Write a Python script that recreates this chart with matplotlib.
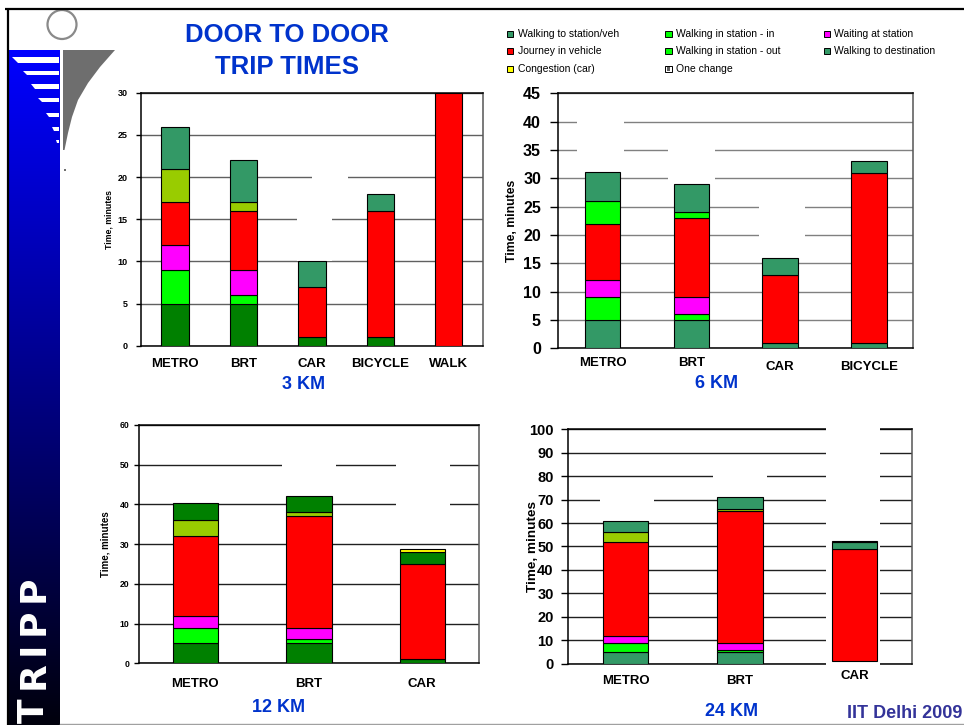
import numpy as np
import matplotlib
matplotlib.use("Agg")
import matplotlib.pyplot as plt
from matplotlib.patches import Rectangle, Polygon, Circle
from matplotlib.transforms import ScaledTranslation

plt.rcParams['font.family'] = ['Liberation Sans', 'DejaVu Sans']

# ------------------------------------------------------------------ data
cats_3km = ["METRO", "BRT", "CAR", "BICYCLE", "WALK"]
walk_to_3km = [5, 5, 1, 1, 0]
walk_in_3km = [4, 1, 0, 0, 0]
wait_3km = [3, 3, 0, 0, 0]
journey_3km = [5, 7, 6, 15, 30]
walk_out_3km = [4, 1, 0, 0, 0]
walk_dest_3km = [5, 5, 3, 2, 0]
congestion_3km = [0, 0, 0, 0, 0]

cats_6km = ["METRO", "BRT", "CAR", "BICYCLE"]
walk_to_6km = [5, 5, 1, 1]
walk_in_6km = [4, 1, 0, 0]
wait_6km = [3, 3, 0, 0]
journey_6km = [10, 14, 12, 30]
walk_out_6km = [4, 1, 0, 0]
walk_dest_6km = [5.2, 5, 3, 2]
congestion_6km = [0, 0, 0, 0]

cats_12km = ["METRO", "BRT", "CAR"]
walk_to_12km = [5, 5, 1]
walk_in_12km = [4, 1, 0]
wait_12km = [3, 3, 0]
journey_12km = [20, 28, 24]
walk_out_12km = [4, 1, 0]
walk_dest_12km = [4.3, 4.2, 3]
congestion_12km = [0, 0, 0.8]

cats_24km = ["METRO", "BRT", "CAR"]
walk_to_24km = [5, 5, 1]
walk_in_24km = [4, 1, 0]
wait_24km = [3, 3, 0]
journey_24km = [40, 56, 48]
walk_out_24km = [4, 1, 0]
walk_dest_24km = [5, 5, 3]
congestion_24km = [0, 0, 0.25]

legend_labels = ["Walking to station/veh", "Walking in station - in", "Waiting at station",
                 "Journey in vehicle", "Walking in station - out", "Walking to destination",
                 "Congestion (car)", "One change"]

# ------------------------------------------------------------------ styles
DKGREEN = '#008000'
SEAGREEN = '#339966'
GREEN = '#00ff00'
MAGENTA = '#ff00ff'
RED = '#ff0000'
YGREEN = '#99cc00'
YELLOW = '#ffff00'
BLUE_TXT = '#0033cc'

fig = plt.figure(figsize=(9.64, 7.25), dpi=100)
fig.patch.set_facecolor('white')

# ------------------------------------------------------------------ slide decoration
deco = fig.add_axes([0, 0, 1, 1], zorder=-1)
deco.set_xlim(0, 964)
deco.set_ylim(725, 0)
deco.axis('off')

# blue gradient sidebar
grad = np.linspace(1.0, 0.05, 256)
img = np.zeros((256, 1, 3))
img[:, 0, 2] = grad
deco.imshow(img, extent=(9.3, 60, 725, 50), aspect='auto', origin='upper', zorder=1)

# white stripes on the sidebar
stripe_rows = [(57, 63, 12, 18), (71, 75, 23, 27), (84, 89, 31, 35), (98, 102, 38, 42),
               (113, 117, 46, 49), (127, 131, 52, 54), (140, 143, 56, 57)]
for yt, yb, xl_t, xl_b in stripe_rows:
    deco.add_patch(Polygon([(xl_t, yt), (58.7, yt), (58.7, yb), (xl_b, yb)],
                           closed=True, facecolor='white', edgecolor='none', zorder=2))

# gray logo shape
deco.add_patch(Polygon([(63, 50), (115, 50), (100, 67), (88, 83), (78, 100), (72, 117),
                        (68, 133), (64.5, 150), (63, 150)], closed=True,
                       facecolor='#6e6e6e', edgecolor='none', zorder=2))
deco.add_patch(Circle((62, 24.5), 14.5, fill=False, edgecolor='#8a8a8a', linewidth=1.6, zorder=2))
deco.add_patch(Rectangle((64, 169), 1.5, 1.5, facecolor='#707070', edgecolor='none', zorder=2))

# frame lines
deco.plot([5, 964], [9, 9], color='black', linewidth=1.6, zorder=3, solid_capstyle='butt')
deco.plot([8.3, 8.3], [8, 725], color='black', linewidth=1.6, zorder=3, solid_capstyle='butt')
deco.plot([60, 964], [724, 724], color='#a0a0a0', linewidth=1.0, zorder=3)

# TRIPP (reading bottom to top)
tripp_letters = ["T", "R", "I", "P", "P"]
tripp_centres = [711, 675, 648, 622, 589]
for ch, yc in zip(tripp_letters, tripp_centres):
    deco.text(44, yc, ch, rotation=90, rotation_mode='anchor', ha='center', va='baseline',
              color='white', fontsize=26, fontweight='bold', family='DejaVu Sans', zorder=4)

# title
deco.text(287, 35, "DOOR TO DOOR", ha='center', va='center', fontsize=18.5,
          fontweight='bold', color=BLUE_TXT)
deco.text(287, 67, "TRIP TIMES", ha='center', va='center', fontsize=18.5,
          fontweight='bold', color=BLUE_TXT)

deco.text(962, 714, "IIT Delhi 2009", ha='right', va='center', fontsize=13,
          fontweight='bold', color='#333399')

# legend
leg_colors = [SEAGREEN, GREEN, MAGENTA, RED, GREEN, SEAGREEN, YELLOW, None]
leg_mx = [510, 668.5, 827]
leg_tx = [517.5, 676, 834.5]
leg_y = [34, 51, 69]
for k, (lab, col) in enumerate(zip(legend_labels, leg_colors)):
    r, c = divmod(k, 3)
    mx, my = leg_mx[c], leg_y[r]
    if col is None:
        deco.add_patch(Rectangle((mx - 3.2, my - 3.2), 6.4, 6.4, facecolor='white',
                                 edgecolor='black', linewidth=0.7))
        deco.add_patch(Rectangle((mx - 1.6, my - 1.6), 3.2, 3.2, facecolor='#606060',
                                 edgecolor='none'))
    else:
        deco.add_patch(Rectangle((mx - 3.2, my - 3.2), 6.4, 6.4, facecolor=col,
                                 edgecolor='black', linewidth=0.7))
    deco.text(leg_tx[c], my, lab, ha='left', va='center', fontsize=7.5, color='black')


# ------------------------------------------------------------------ charts
def draw_chart(rect, cats, segments, seg_colors, ymax, ystep, *, tick_fs, tick_pad, tick_len,
               ylab_fs, ylab_x, cat_pad, grid_color, gaps, label_shift=None):
    ax = fig.add_axes(rect)
    x = np.arange(len(cats))
    bottom = np.zeros(len(cats))
    for vals, col in zip(segments, seg_colors):
        vals = np.asarray(vals, dtype=float)
        cols = col if isinstance(col, list) else [col] * len(cats)
        for i in range(len(cats)):
            if vals[i] <= 0:
                continue
            fc = cols[i]
            ec = 'none' if fc == 'white' else 'black'
            ax.bar(x[i], vals[i], width=0.4, bottom=bottom[i], color=fc,
                   edgecolor=ec, linewidth=0.8, zorder=3)
        bottom += vals
    ax.set_xlim(-0.5, len(cats) - 0.5)
    ax.set_ylim(0, ymax)
    ax.set_yticks(np.arange(0, ymax + ystep / 2, ystep))
    ax.set_axisbelow(True)
    ax.yaxis.grid(True, color=grid_color, linewidth=1.0)
    ax.set_xticks(x)
    ax.set_xticklabels(cats, fontsize=9.5, fontweight='bold')
    ax.tick_params(axis='x', length=0, pad=cat_pad)
    ax.tick_params(axis='y', labelsize=tick_fs, pad=tick_pad, length=tick_len, width=1.0,
                   direction='out')
    for lab in ax.get_yticklabels():
        lab.set_fontweight('bold')
    for s in ax.spines.values():
        s.set_linewidth(1.1)
        s.set_color('black')
    ax.spines['right'].set_color('#555555')
    ax.text(ylab_x, 0.5, "Time, minutes", transform=ax.transAxes, rotation=90,
            ha='center', va='center', fontsize=ylab_fs, fontweight='bold')
    for (i, dx0, dx1, y0, y1) in gaps:
        ax.add_patch(Rectangle((i + dx0, y0), dx1 - dx0, y1 - y0, facecolor='white',
                               edgecolor='none', zorder=2.7, clip_on=False))
    if label_shift:
        for lab, dy in zip(ax.get_xticklabels(), label_shift):
            if dy:
                lab.set_transform(lab.get_transform() +
                                  ScaledTranslation(0, -dy / 100.0, fig.dpi_scale_trans))
    return ax


segs_3 = [walk_to_3km, walk_in_3km, wait_3km, journey_3km, walk_out_3km, walk_dest_3km, congestion_3km]
cols_3 = [DKGREEN, GREEN, MAGENTA, RED, YGREEN, SEAGREEN, YELLOW]
draw_chart([0.146, 0.523, 0.355, 0.349], cats_3km, segs_3, cols_3, 30, 5,
           tick_fs=6.5, tick_pad=6, tick_len=3.4, ylab_fs=6.3, ylab_x=-0.092, cat_pad=8.5,
           grid_color='#606060',
           gaps=[(2, -0.21, 0.30, 10.1, 16.0), (2, 0.006, 0.526, 16.0, 21.0)])

segs_6 = [walk_to_6km, walk_in_6km, wait_6km, journey_6km, walk_out_6km, walk_dest_6km, congestion_6km]
cols_6 = [SEAGREEN, GREEN, MAGENTA, RED, GREEN, SEAGREEN, YELLOW]
draw_chart([0.5792, 0.5196, 0.3683, 0.3517], cats_6km, segs_6, cols_6, 45, 5,
           tick_fs=11.5, tick_pad=7, tick_len=5.5, ylab_fs=8.8, ylab_x=-0.130, cat_pad=6,
           grid_color='#808080',
           gaps=[(0, -0.285, 0.24, 32, 42), (1, -0.26, 0.26, 29.6, 37), (2, -0.24, 0.28, 17, 27)],
           label_shift=[0, 0, 4, 4])

segs_12 = [walk_to_12km, walk_in_12km, wait_12km, journey_12km, walk_out_12km, walk_dest_12km, congestion_12km]
cols_12 = [DKGREEN, GREEN, MAGENTA, RED, YGREEN, DKGREEN, YELLOW]
draw_chart([0.1439, 0.0851, 0.353, 0.3287], cats_12km, segs_12, cols_12, 60, 10,
           tick_fs=6.2, tick_pad=3, tick_len=3.7, ylab_fs=7, ylab_x=-0.097, cat_pad=10.5,
           grid_color='#202020',
           gaps=[(1, -0.236, 0.243, 45, 55), (2, -0.23, 0.24, 33, 55)])

segs_24 = [walk_to_24km, walk_in_24km, wait_24km, journey_24km, walk_out_24km, walk_dest_24km, congestion_24km]
cols_24 = [[SEAGREEN, SEAGREEN, 'white'], GREEN, MAGENTA, RED, YGREEN, SEAGREEN, YELLOW]
draw_chart([0.5895, 0.0846, 0.3562, 0.3233], cats_24km, segs_24, cols_24, 100, 10,
           tick_fs=10.5, tick_pad=5.5, tick_len=5, ylab_fs=9.7, ylab_x=-0.103, cat_pad=8,
           grid_color='#202020',
           gaps=[(0, -0.22, 0.25, 65, 75), (1, -0.233, 0.233, 75, 85), (2, -0.25, 0.22, -0.9, 100.9)],
           label_shift=[0, 0, -5])

# distance captions
deco.text(304, 384, "3 KM", ha='center', va='center', fontsize=13, fontweight='bold', color=BLUE_TXT)
deco.text(717, 383, "6 KM", ha='center', va='center', fontsize=13, fontweight='bold', color=BLUE_TXT)
deco.text(279, 708, "12 KM", ha='center', va='center', fontsize=13, fontweight='bold', color=BLUE_TXT)
deco.text(732, 712, "24 KM", ha='center', va='center', fontsize=13, fontweight='bold', color=BLUE_TXT)

fig.savefig("out.png", dpi=100, facecolor='white')
